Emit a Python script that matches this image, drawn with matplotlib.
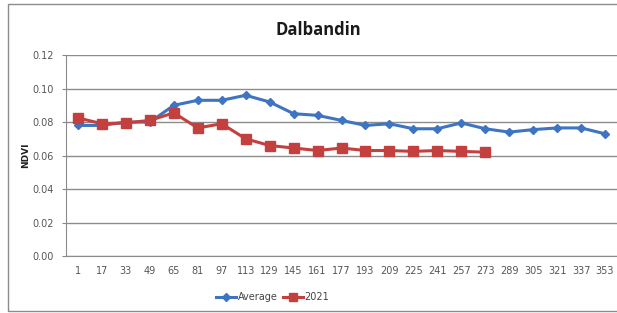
import matplotlib
matplotlib.use("Agg")
import matplotlib.pyplot as plt
from matplotlib.patches import Rectangle

days = [1, 17, 33, 49, 65, 81, 97, 113, 129, 145, 161, 177, 193, 209, 225, 241, 257, 273, 289, 305, 321, 337, 353]
average = [0.078, 0.078, 0.080, 0.080, 0.090, 0.093, 0.093, 0.096, 0.092, 0.085, 0.084, 0.081, 0.078, 0.079,
           0.076, 0.076, 0.0795, 0.076, 0.074, 0.0755, 0.0765, 0.0765, 0.073]
y2021 = [0.0825, 0.079, 0.0795, 0.081, 0.0855, 0.0765, 0.079, 0.070, 0.066, 0.0645, 0.063, 0.0645, 0.063, 0.063,
         0.0625, 0.063, 0.0625, 0.062]
yticks = [0.00, 0.02, 0.04, 0.06, 0.08, 0.10, 0.12]

fig = plt.figure(figsize=(6.17, 3.13), dpi=100)
ax = fig.add_axes([0.107, 0.182, 0.893, 0.642])

fam = ['Liberation Sans Narrow', 'DejaVu Sans']
pos = list(range(len(days)))
ax.plot(pos, average, color='#3e74c2', lw=2.2, marker='D', ms=4.5, label='Average', zorder=3)
ax.plot(pos[:len(y2021)], y2021, color='#c4403e', lw=2.2, marker='s', ms=7, label='2021', zorder=4)

ax.set_xlim(-0.5, len(days) - 0.5)
ax.set_ylim(0, 0.12)
ax.set_yticks(yticks)
ax.set_yticklabels([f"{v:.2f}" for v in yticks], fontsize=7, color='#555555', family=fam)
ax.set_xticks(pos)
ax.set_xticklabels([str(d) for d in days], fontsize=7, color='#555555', family=fam)
ax.tick_params(axis='x', length=0, pad=7)
ax.tick_params(axis='y', length=3, color='#888888', pad=6)
ax.yaxis.grid(True, color='#8c8c8c', lw=1)
ax.set_axisbelow(True)
for s in ['top', 'right']:
    ax.spines[s].set_visible(False)
ax.spines['left'].set_color('#8c8c8c')
ax.spines['bottom'].set_color('#8c8c8c')
ax.set_ylabel('NDVI', fontsize=6.5, fontweight='bold', color='#222222')
ax.yaxis.set_label_coords(-0.066, 0.5)

fig.text(0.516, 0.905, 'Dalbandin', ha='center', va='center', fontsize=12, fontweight='bold',
         family=['Open Sans', 'DejaVu Sans'], color='#1a1a1a')

leg = fig.legend(loc='center', bbox_to_anchor=(0.442, 0.05), ncol=2, frameon=False,
                 prop={'family': fam, 'size': 7}, handlelength=2.0, columnspacing=0.6,
                 handletextpad=0.2, markerscale=0.8)
for t in leg.get_texts():
    t.set_color('#444444')

fig.patches.append(Rectangle((8 / 617, 1 - 311 / 313), 1.2, (311 - 4) / 313, transform=fig.transFigure,
                             fill=False, edgecolor='#8c8c8c', lw=1))

fig.savefig('out.png', dpi=100)
